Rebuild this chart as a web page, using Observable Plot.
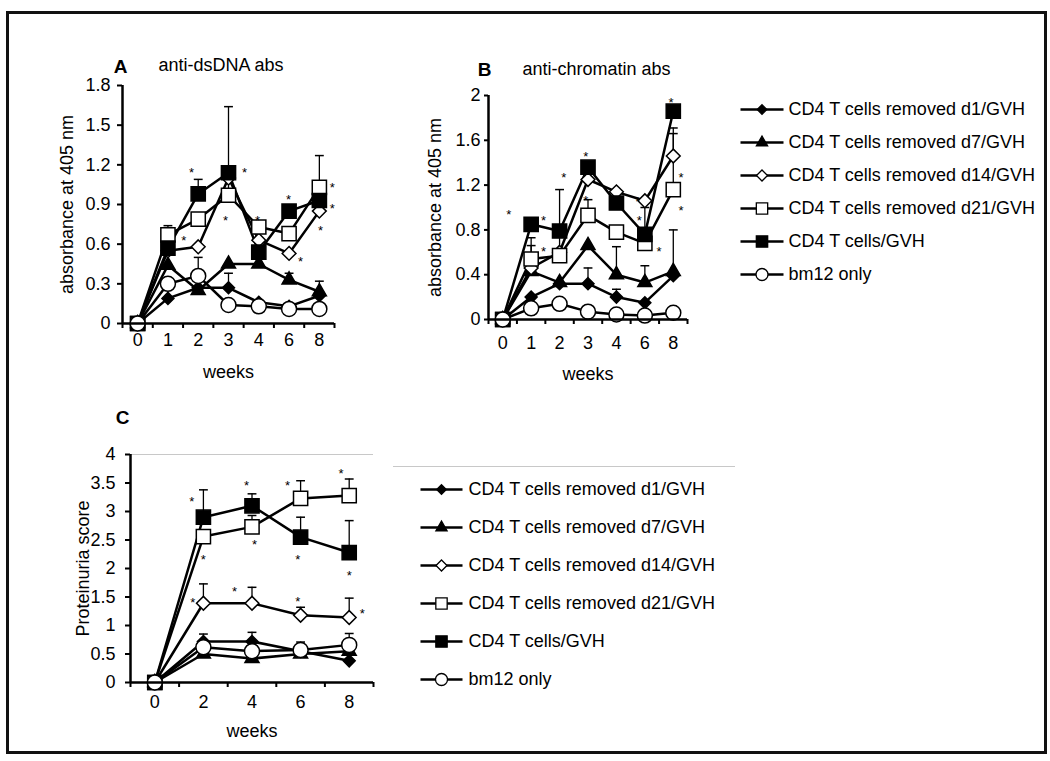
<!DOCTYPE html>
<html>
<head>
<meta charset="utf-8">
<script src="https://cdn.jsdelivr.net/npm/d3@7"></script>
<script src="https://cdn.jsdelivr.net/npm/@observablehq/plot@0.6"></script>
<style>
  body { margin: 0; background: white; }
  #root { position: relative; width: 1050px; height: 761px; background: white; overflow: hidden; }
  .frame { position: absolute; left: 6px; top: 11px; width: 1041px; height: 743px; border: 3px solid #111; box-sizing: border-box; }
  .sep { position: absolute; left: 393px; top: 466px; width: 342px; height: 0; border-top: 1px solid #c8c8c8; }
</style>
</head>
<body>
<div id="root"><div class="frame"></div><div class="sep"></div></div>
<script>
const fontFamily = "'Liberation Sans', Arial, Helvetica, sans-serif";
const FS = 18;

const weeksAB = ["0", "1", "2", "3", "4", "6", "8"];
const weeksC = ["0", "2", "4", "6", "8"];
const seriesNames = [
  "CD4 T cells removed d1/GVH",
  "CD4 T cells removed d7/GVH",
  "CD4 T cells removed d14/GVH",
  "CD4 T cells removed d21/GVH",
  "CD4 T cells/GVH",
  "bm12 only"
];

// Panel A: anti-dsDNA abs (rows = series, cols = weeks)
const absA = [
  [0, 0.19, 0.27, 0.27, 0.16, 0.13, 0.21],
  [0, 0.44, 0.25, 0.45, 0.45, 0.33, 0.24],
  [0, 0.55, 0.58, 1.10, 0.63, 0.53, 0.85],
  [0, 0.67, 0.79, 0.97, 0.73, 0.68, 1.03],
  [0, 0.57, 0.98, 1.14, 0.54, 0.85, 0.93],
  [0, 0.30, 0.36, 0.14, 0.13, 0.11, 0.11]
];
const errA = [
  [null, null, null, 0.38, null, null, null],
  [null, null, null, null, null, 0.38, 0.32],
  [null, null, null, null, null, null, null],
  [null, 0.74, null, 1.10, null, null, 1.27],
  [null, null, 1.09, 1.64, null, null, null],
  [null, null, 0.50, null, 0.18, 0.15, 0.14]
];
const starsA = [[1.78, 1.16], [3.53, 1.16], [2.9, 0.80], [1.52, 0.65], [3.96, 0.80],
  [4.98, 0.96], [5.38, 0.49], [6.04, 0.72], [6.43, 1.05], [6.43, 0.89]];
const yTicksA = [0, 0.3, 0.6, 0.9, 1.2, 1.5, 1.8];

// Panel B: anti-chromatin abs
const absB = [
  [0, 0.20, 0.32, 0.32, 0.20, 0.15, 0.39],
  [0, 0.43, 0.33, 0.66, 0.40, 0.33, 0.43],
  [0, 0.46, 0.60, 1.25, 1.14, 1.06, 1.46],
  [0, 0.54, 0.57, 0.93, 0.78, 0.68, 1.16],
  [0, 0.85, 0.79, 1.36, 1.04, 0.76, 1.86],
  [0, 0.10, 0.14, 0.07, 0.045, 0.035, 0.06]
];
const errB = [
  [null, null, null, 0.46, 0.27, null, null],
  [null, null, null, null, 0.65, 0.48, 0.80],
  [null, 0.66, null, null, null, null, 1.71],
  [null, 0.73, 1.16, 1.07, null, 1.00, 1.66],
  [null, null, null, null, null, null, null],
  [null, null, null, null, null, null, null]
];
const starsB = [[0.21, 0.96], [1.44, 0.91], [1.44, 0.63], [2.15, 1.29], [2.92, 1.48], [2.92, 1.09],
  [4.75, 1.08], [4.8, 0.91], [5.5, 0.63], [5.92, 1.96], [6.27, 1.29], [6.27, 1.0]];
const yTicksB = [0, 0.4, 0.8, 1.2, 1.6, 2];

// Panel C: proteinuria score
const absC = [
  [0, 0.72, 0.72, 0.55, 0.38],
  [0, 0.50, 0.42, 0.50, 0.55],
  [0, 1.39, 1.39, 1.18, 1.14],
  [0, 2.56, 2.73, 3.23, 3.28],
  [0, 2.90, 3.10, 2.55, 2.28],
  [0, 0.62, 0.55, 0.57, 0.66]
];
const errC = [
  [null, 0.85, 0.88, null, null],
  [null, null, null, null, null],
  [null, 1.73, 1.67, 1.32, 1.48],
  [null, null, 2.93, 3.54, 3.57],
  [null, 3.38, 3.31, 2.90, 2.84],
  [null, null, null, 0.71, 0.86]
];
const starsC = [[0.76, 3.22], [1.89, 3.51], [2.73, 3.51], [3.83, 3.72], [1.0, 2.2], [2.05, 2.46],
  [2.94, 2.2], [4.0, 1.93], [0.78, 1.45], [1.64, 1.64], [2.94, 1.46], [4.27, 1.26]];
const yTicksC = [0, 0.5, 1, 1.5, 2, 2.5, 3, 3.5, 4];

// marker styles per series
const markerStyles = [
  {symbol: "diamond2", fill: "black", r: 5.4},
  {symbol: "triangle", fill: "black", r: 5.2},
  {symbol: "diamond2", fill: "white", r: 6.2},
  {symbol: "square", fill: "white", r: 8},
  {symbol: "square", fill: "black", r: 8},
  {symbol: "circle", fill: "white", r: 7.5}
];
const capSymbol = {
  draw(context, size) {
    const w = Math.sqrt(size) / 2;
    context.moveTo(-w, 0);
    context.lineTo(w, 0);
  }
};
const baseStyle = {fontFamily, fontSize: FS + "px", color: "black", background: "transparent", overflow: "visible"};

const root = document.getElementById("root");
function place(el, left, top) {
  el.style.position = "absolute";
  el.style.left = left + "px";
  el.style.top = top + "px";
  root.appendChild(el);
}

function panel(cfg) {
  const n = cfg.weeks.length;
  const rows = cfg.values.flatMap((vals, s) => vals.map((v, i) => ({s, i, v})));
  const errRows = cfg.errs.flatMap((tops, s) =>
    tops.map((top, i) => ({s, i, v: cfg.values[s][i], top})).filter(d => d.top != null));
  const marks = [];
  if (cfg.topLine) marks.push(Plot.ruleY([cfg.yMax], {stroke: "#c8c8c8", strokeWidth: 1}));
  marks.push(
    Plot.ruleX(errRows, {x: "i", y1: "v", y2: "top", stroke: "black", strokeWidth: 1.3}),
    Plot.dot(errRows, {x: "i", y: "top", symbol: capSymbol, r: 5, stroke: "black", strokeWidth: 1.5, fill: "none"}),
    Plot.line(rows, {x: "i", y: "v", z: "s", stroke: "black", strokeWidth: 2.5})
  );
  markerStyles.forEach((m, s) => {
    marks.push(Plot.dot(rows.filter(d => d.s === s), {
      x: "i", y: "v", symbol: m.symbol, r: m.r, fill: m.fill, stroke: "black", strokeWidth: 1.5
    }));
  });
  marks.push(
    Plot.text(cfg.stars, {x: d => d[0], y: d => d[1], text: () => "*", fontSize: 13, dy: 3}),
    Plot.ruleY([0], {stroke: "black", strokeWidth: 2.5}),
    Plot.ruleX([-0.5], {stroke: "black", strokeWidth: 2.5}),
    Plot.axisY({ticks: cfg.yTicks, tickFormat: d3.format("~g"), tickSize: cfg.yTickSize, tickPadding: cfg.yPad,
      fontSize: FS, label: null, strokeWidth: 2}),
    Plot.axisX({ticks: d3.range(n), tickFormat: i => cfg.weeks[i], tickSize: 0, tickPadding: cfg.xPad,
      fontSize: FS, label: null}),
    Plot.axisX({ticks: d3.range(n + 1).map(k => k - 0.5), tickFormat: () => "", tickSize: 5, label: null, strokeWidth: 2}),
    Plot.text([cfg.ylabel], {text: d => d, frameAnchor: "left", rotate: -90, dx: cfg.yLabelDx, fontSize: FS,
      textAnchor: "middle", lineAnchor: "middle"}),
    Plot.text(["weeks"], {text: d => d, frameAnchor: "bottom", dy: cfg.xLabelDy, fontSize: FS,
      textAnchor: "middle", lineAnchor: "middle"}),
    Plot.text([cfg.letter], {text: d => d, frameAnchor: "top-left", dx: cfg.letterDx, dy: cfg.letterDy,
      fontSize: FS + 1, fontWeight: "bold", textAnchor: "middle", lineAnchor: "middle"})
  );
  if (cfg.title) {
    marks.push(Plot.text([cfg.title], {text: d => d, frameAnchor: "top-left", dx: cfg.titleDx, dy: cfg.titleDy,
      fontSize: FS, textAnchor: "start", lineAnchor: "middle"}));
  }
  const svg = Plot.plot({
    width: cfg.width, height: cfg.height,
    marginLeft: cfg.ml, marginRight: cfg.mr, marginTop: cfg.mt, marginBottom: cfg.mb,
    x: {domain: [-0.5, n - 0.5]},
    y: {domain: [0, cfg.yMax]},
    style: baseStyle,
    marks
  });
  place(svg, cfg.left, cfg.top);
}

function legend(cfg) {
  const idx = d3.range(seriesNames.length);
  const marks = [
    Plot.link(idx, {x1: 0, x2: 1, y1: i => seriesNames[i], y2: i => seriesNames[i], stroke: "black", strokeWidth: 2.5})
  ];
  markerStyles.forEach((m, s) => {
    marks.push(Plot.dot([s], {x: 0.5, y: i => seriesNames[i], symbol: m.symbol, r: m.r * 0.8,
      fill: m.fill, stroke: "black", strokeWidth: 1.3}));
  });
  marks.push(Plot.text(idx, {x: 1, y: i => seriesNames[i], text: i => seriesNames[i], dx: cfg.dx,
    textAnchor: "start", fontSize: FS}));
  const svg = Plot.plot({
    width: cfg.width, height: cfg.height, margin: 0,
    x: {domain: [0, 1], range: cfg.xRange, axis: null},
    y: {type: "point", domain: seriesNames, range: cfg.yRange, padding: 0, axis: null},
    style: baseStyle,
    marks
  });
  place(svg, cfg.left, cfg.top);
}

panel({
  weeks: weeksAB, values: absA, errs: errA, stars: starsA, yTicks: yTicksA, yMax: 1.8,
  left: 40, top: 40, width: 320, height: 350, ml: 82, mr: 26, mt: 45, mb: 67,
  yTickSize: 5, yPad: 7, xPad: 10, yLabelDx: -55, xLabelDy: 49,
  ylabel: "absorbance at 405 nm", letter: "A", letterDx: -2, letterDy: -19,
  title: "anti-dsDNA abs", titleDx: 36, titleDy: -20
});
panel({
  weeks: weeksAB, values: absB, errs: errB, stars: starsB, yTicks: yTicksB, yMax: 2,
  left: 400, top: 40, width: 320, height: 350, ml: 88, mr: 33, mt: 55, mb: 71,
  yTickSize: 4, yPad: 4, xPad: 17, yLabelDx: -53, xLabelDy: 55,
  ylabel: "absorbance at 405 nm", letter: "B", letterDx: -4, letterDy: -26,
  title: "anti-chromatin abs", titleDx: 34, titleDy: -26
});
panel({
  weeks: weeksC, values: absC, errs: errC, stars: starsC, yTicks: yTicksC, yMax: 4, topLine: true,
  left: 40, top: 390, width: 350, height: 360, ml: 90, mr: 17, mt: 64, mb: 68,
  yTickSize: 5, yPad: 10, xPad: 13, yLabelDx: -47, xLabelDy: 49,
  ylabel: "Proteinuria score", letter: "C", letterDx: -8, letterDy: -37
});
legend({left: 720, top: 90, width: 325, height: 200, xRange: [20, 63], yRange: [19, 184], dx: 5});
legend({left: 380, top: 440, width: 360, height: 260, xRange: [40, 82], yRange: [48, 240], dx: 6});
</script>
</body>
</html>
